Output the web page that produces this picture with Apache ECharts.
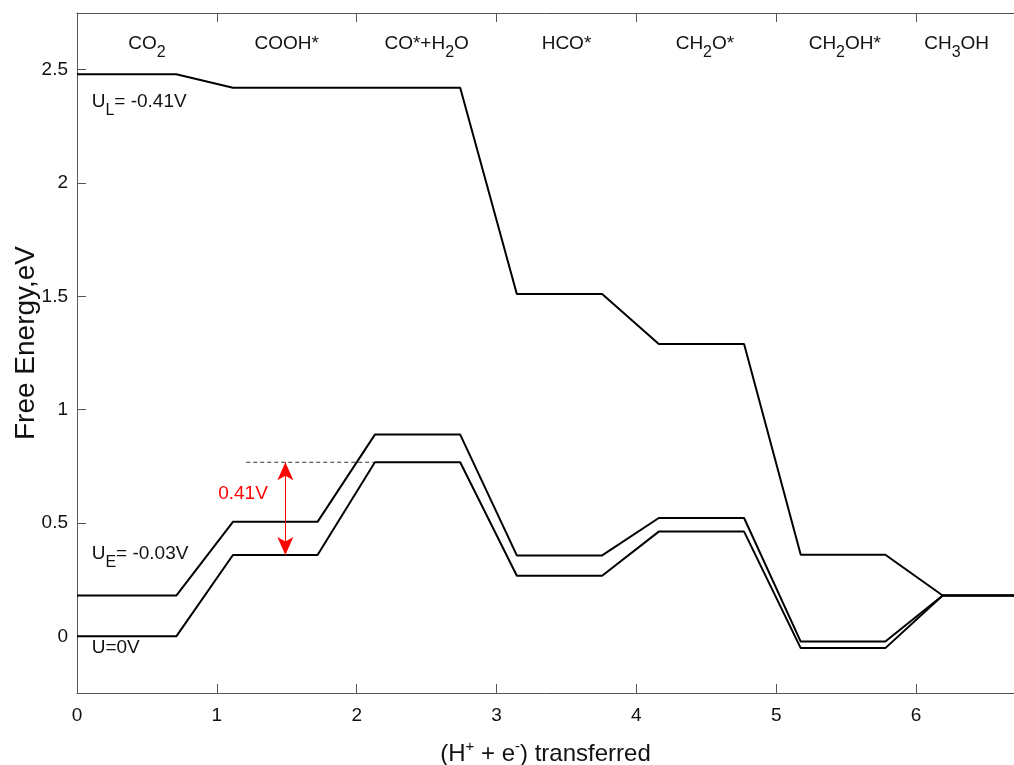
<!DOCTYPE html>
<html><head><meta charset="utf-8">
<script src="https://cdn.jsdelivr.net/npm/echarts@6/dist/echarts.min.js"></script>
<style>html,body{margin:0;padding:0;background:#fff}#c{width:1014px;height:765px}</style>
</head><body><div id="c"></div>
<script>
// ---- data ----
const levelStart = [0, 1.115, 2.13, 3.145, 4.16, 5.175, 6.19];
const levelEnd   = [0.71, 1.72, 2.74, 3.755, 4.77, 5.78, 6.7];
const energyUL = [2.48, 2.42, 2.42, 1.51, 1.29, 0.36, 0.18];
const energyUE = [0.18, 0.505, 0.89, 0.357, 0.522, -0.023, 0.18];
const energyU0 = [0, 0.359, 0.768, 0.267, 0.462, -0.052, 0.18];
const stepNames = ['CO{s|2}', 'COOH*', 'CO*+H{s|2}O', 'HCO*', 'CH{s|2}O*', 'CH{s|2}OH*', 'CH{s|3}OH'];
const stepLabelX = [0.5, 1.5, 2.5, 3.5, 4.49, 5.49, 6.29];
const stepLabelY = 2.615;
const curveNames = ['U{s|L}= -0.41V', 'U{s|E}= -0.03V', 'U=0V'];
const curveLabelX = [0.105, 0.105, 0.105];
const curveLabelY = [2.36, 0.364, -0.051];
const gapArrow = [[1.49, 0.768], [1.49, 0.359]];
const gapLine = [[1.21, 0.768], [2.12, 0.768]];
const gapText = '0.41V';
const gapTextPos = [1.187, 0.629];
const xTitle = '(H{p|+} + e{p|-}) transferred';
const yTitle = 'Free Energy,eV';

// ---- build ----
function profile(e) {
  const pts = [];
  for (let k = 0; k < e.length; k++) {
    pts.push([levelStart[k], e[k]]);
    pts.push([levelEnd[k], e[k]]);
  }
  return pts;
}
const FONT = '"Liberation Sans", Arial, Helvetica, sans-serif';
const TXT = '#111';
const AX = '#555';
const subRich = { s: { fontSize: 16, padding: [18, 0, 0, 0], color: TXT, fontFamily: FONT } };

const lineBase = {
  type: 'line', symbol: 'none', showSymbol: false, silent: true,
  xAxisIndex: 0, yAxisIndex: 0, animation: false
};
const textSeriesBase = {
  type: 'scatter', symbolSize: 0, silent: true, z: 5,
  itemStyle: { opacity: 1, color: '#000' }
};

const chart = echarts.init(document.getElementById('c'));
chart.setOption({
  animation: false,
  textStyle: { fontFamily: FONT, color: TXT },
  grid: { left: 77, right: 0, top: 13, bottom: 72, containLabel: false, outerBoundsMode: 'none' },
  xAxis: [{
    type: 'value', min: 0, max: 6.7, interval: 1, position: 'bottom',
    axisLine: { show: true, onZero: false, lineStyle: { color: AX, width: 1 } },
    axisTick: { show: true, inside: true, length: 9, lineStyle: { color: AX } },
    axisLabel: { fontSize: 19, color: TXT, margin: 13, showMaxLabel: false, fontFamily: FONT },
    splitLine: { show: false },
    name: xTitle, nameLocation: 'middle', nameGap: 46, nameMoveOverlap: false,
    nameTextStyle: { fontSize: 24, color: TXT, fontFamily: FONT,
      rich: { p: { fontSize: 15, padding: [0, 0, 16, 0], color: TXT, fontFamily: FONT } } }
  }, {
    type: 'value', min: 0, max: 6.7, interval: 1, position: 'top',
    axisLine: { show: true, onZero: false, lineStyle: { color: AX, width: 1 } },
    axisTick: { show: true, inside: true, length: 9, lineStyle: { color: AX } },
    axisLabel: { show: false }, splitLine: { show: false }
  }],
  yAxis: [{
    type: 'value', min: -0.25, max: 2.75, splitNumber: 6,
    axisLine: { show: true, onZero: false, lineStyle: { color: AX, width: 1 } },
    axisTick: { show: true, inside: true, length: 9, lineStyle: { color: AX } },
    axisLabel: { fontSize: 19, color: TXT, margin: 9, showMinLabel: false, showMaxLabel: false, fontFamily: FONT },
    splitLine: { show: false },
    name: yTitle, nameLocation: 'middle', nameGap: 37, nameMoveOverlap: false,
    nameTextStyle: { fontSize: 28, color: TXT, fontFamily: FONT, padding: [0, 0, 0, 20] }
  }],
  series: [
    Object.assign({}, lineBase, { data: profile(energyUL), lineStyle: { color: '#000', width: 2 }, z: 3 }),
    Object.assign({}, lineBase, { data: profile(energyUE), lineStyle: { color: '#000', width: 2 }, z: 3 }),
    Object.assign({}, lineBase, { data: profile(energyU0), lineStyle: { color: '#000', width: 2 }, z: 3 }),
    Object.assign({}, lineBase, { data: gapLine, lineStyle: { color: '#333', width: 1, type: [4, 3] }, z: 2 }),
    Object.assign({}, lineBase, {
      data: [], z: 4,
      markLine: {
        silent: true, animation: false,
        symbol: ['arrow', 'arrow'], symbolSize: [12, 18],
        lineStyle: { color: '#ff0000', width: 1, type: 'solid' },
        label: { show: false },
        data: [[{ coord: gapArrow[0] }, { coord: gapArrow[1] }]]
      }
    }),
    Object.assign({}, textSeriesBase, {
      data: stepLabelX.map((x, i) => [x, stepLabelY, stepNames[i]]),
      label: { show: true, position: 'inside', formatter: p => p.data[2], fontSize: 19, color: TXT,
        fontFamily: FONT, align: 'center', verticalAlign: 'middle', rich: subRich }
    }),
    Object.assign({}, textSeriesBase, {
      data: curveLabelX.map((x, i) => [x, curveLabelY[i], curveNames[i]]),
      label: { show: true, position: 'right', distance: 0, formatter: p => p.data[2], fontSize: 19, color: TXT,
        fontFamily: FONT, rich: subRich }
    }),
    Object.assign({}, textSeriesBase, {
      data: [[gapTextPos[0], gapTextPos[1], gapText]],
      label: { show: true, position: 'inside', formatter: p => p.data[2], fontSize: 19, color: '#ff0000',
        fontFamily: FONT }
    })
  ]
});
</script>
</body></html>
